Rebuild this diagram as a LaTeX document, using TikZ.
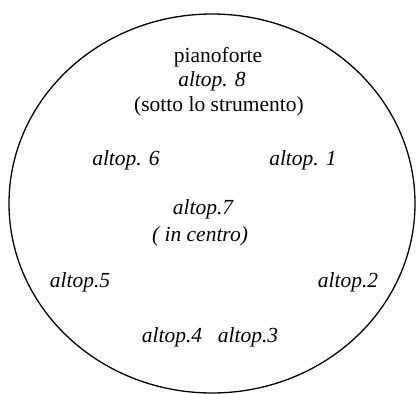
\documentclass[tikz,border=0pt]{standalone}
\usepackage{fontspec}
\setmainfont{Liberation Serif}
\usetikzlibrary{positioning}

\begin{document}
\begin{tikzpicture}[x=1pt,y=-1pt,
    lbl/.style={inner sep=0pt, font=\fontsize{21.5}{26}\selectfont},
    altop/.style={lbl, font=\fontsize{21.5}{26}\selectfont\itshape}]
        \useasboundingbox (0,0) rectangle (416,394);
        \draw[line width=1.3pt] (212,203.5) ellipse [x radius=203, y radius=189.5];

        \node[lbl] (piano) at (218,57) {pianoforte};
        \node[altop] (altop8) at (212,81) {altop. 8};
        \node[lbl] (sotto) at (219,106) {(sotto lo strumento)};

        \node[altop] (altop6) at (126,160) {altop. 6};
        \node[altop] (altop1) at (303,160) {altop. 1};

        \node[altop] (altop7) at (203,209) {altop.7};
        \node[altop] (centro) at (200,236) {( in centro)};

        \node[altop] (altop5) at (80,282) {altop.5};
        \node[altop] (altop2) at (348,282) {altop.2};

        \node[altop] (altop4) at (172,337) {altop.4};
        \node[altop] (altop3) at (248,337) {altop.3};
    \end{tikzpicture}
\end{document}
